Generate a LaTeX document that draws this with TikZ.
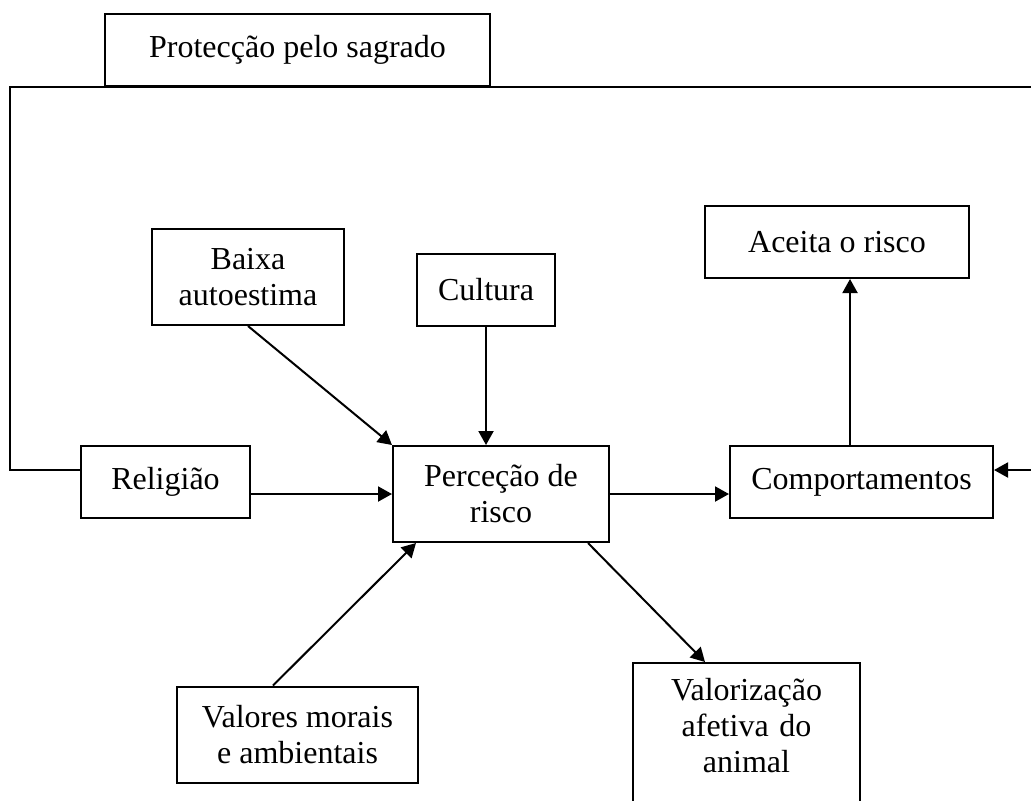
\documentclass[tikz,border=0pt]{standalone}
\usepackage{fontspec}
\setmainfont{Liberation Serif}
\usetikzlibrary{arrows.meta,positioning}
\tikzset{
  flow/.style={>={Triangle[length=7pt,width=7.5pt]}, line width=1pt},
  box/.style={
    draw, line width=1pt, align=center, inner sep=3pt,
    font=\fontsize{16pt}{18pt}\selectfont
  },
  lowbox/.style={box, minimum height=36pt},
  highbox/.style={box, minimum height=48pt},
}

\begin{document}
\begin{tikzpicture}[flow, x=0.5pt, y=-0.5pt]
  \useasboundingbox (0,0) rectangle (1031,800);
  \node[highbox, minimum width=108pt] (perc) at (501,494) {Perceção de\\risco};
  \node[lowbox, minimum width=84.5pt] (rel) at (165.5,482) {Religião};
  \node[lowbox, minimum width=131.5pt] (comp) at (861.5,482) {Comportamentos};
  \node[highbox, minimum width=96pt] (baixa) at (248,277) {Baixa\\autoestima};
  \node[lowbox, minimum width=69pt] (cult) at (486,290) {Cultura};
  \node[lowbox, minimum width=132pt] (aceita) at (837,242) {Aceita o risco};
  \node[highbox, minimum width=120.5pt] (valores) at (297.5,734.5) {Valores morais\\e ambientais};
  \node[box, anchor=north, text width=105pt, minimum width=113.5pt,
    text height=15.5pt, text depth=60pt] (valor) at (746.5,662)
    {Valorização\\afetiva do\\animal};
  \node[lowbox, anchor=south, minimum width=192.5pt] (prot) at (297.5,87) {Protecção pelo sagrado};
  \coordinate (fbl) at (10,87);
  \coordinate (fbr) at (1040,87);

  \draw[->] (baixa.south) -- (perc.north west);
  \draw[->] (cult.south) -- (cult.south |- perc.north);
  \draw[->] (rel.east |- perc.west) -- (perc.west);
  \draw[->] ([xshift=-12.25pt]valores.north) -- ([xshift=12pt]perc.south west);
  \draw[->] ([xshift=-11pt]perc.south east) -- ([xshift=-20.75pt]valor.north);
  \draw[->] (perc.east) -- (perc.east -| comp.west);
  \draw[->] ([xshift=-5.75pt]comp.north) -- ([xshift=-5.75pt]comp.north |- aceita.south);
  % sacred protection loop
  \draw[->] ([yshift=6pt]rel.west) -| (fbl) -- (fbr) |- ([yshift=6pt]comp.east);
\end{tikzpicture}
\end{document}
